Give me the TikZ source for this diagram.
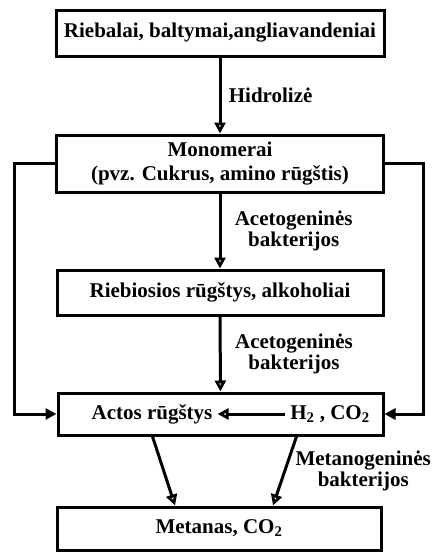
\documentclass[tikz,border=0pt]{standalone}
\usepackage{fontspec}
\setmainfont{Liberation Serif}
\usetikzlibrary{positioning, arrows.meta}

\begin{document}
\begin{tikzpicture}[x=1pt,y=-1pt,
  box/.style={draw,line width=3pt,inner sep=0pt,align=center,font=\bfseries\fontsize{21}{24}\selectfont},
  txt/.style={inner sep=5pt,font=\bfseries\fontsize{21}{24}\selectfont},
  lbl/.style={align=center,font=\bfseries\fontsize{21}{21}\selectfont},
  flow/.style={line width=3pt,-{Triangle[open,length=11pt,width=11pt]}},
  side/.style={line width=3pt,-{Triangle[length=11pt,width=11pt]}}]
\useasboundingbox (0,0) rectangle (439,554);
\node[box,minimum width=328pt,minimum height=46pt] (fats) at (220,33) {Riebalai, baltymai,angliavandeniai};
\node[box,minimum width=327pt,minimum height=57pt] (mono) at (220,163.5) {Monomerai\\(pvz. Cukrus, amino rūgštis)};
\node[box,minimum width=326pt,minimum height=45pt] (fatty) at (220,292.5) {Riebiosios rūgštys, alkoholiai};
\node[box,minimum width=325pt,minimum height=42pt] (acet) at (220.5,414) {};
\node[txt] (acid) at (152,414) {Actos rūgštys};
\node[txt] (gas) at (330,414) {H\textsubscript{2} , CO\textsubscript{2}};
\node[box,minimum width=324pt,minimum height=43pt] (meth) at (219,528.5) {Metanas, CO\textsubscript{2}};

\draw[flow] (fats) -- (mono) node[lbl,midway,right=4pt] {Hidrolizė};
\draw[flow] (mono) -- (fatty) node[lbl,midway,right=10pt] {Acetogeninės\\bakterijos};
\draw[flow] (fatty) -- (acet) node[lbl,midway,right=10pt] {Acetogeninės\\bakterijos};
\draw[flow] (gas) -- (acid);
\draw[side] (mono.west) -- ++(-41,0) |- (acet.west);
\draw[side] (mono.east) -- ++(38,0) |- (acet.east);
\draw[flow] ([xshift=-68pt]acet.south) -- ([xshift=-44pt]meth.north);
\draw[flow] ([xshift=76pt]acet.south) -- ([xshift=54pt]meth.north) node[lbl,midway,right=6pt] {Metanogeninės\\bakterijos};
\end{tikzpicture}
\end{document}
